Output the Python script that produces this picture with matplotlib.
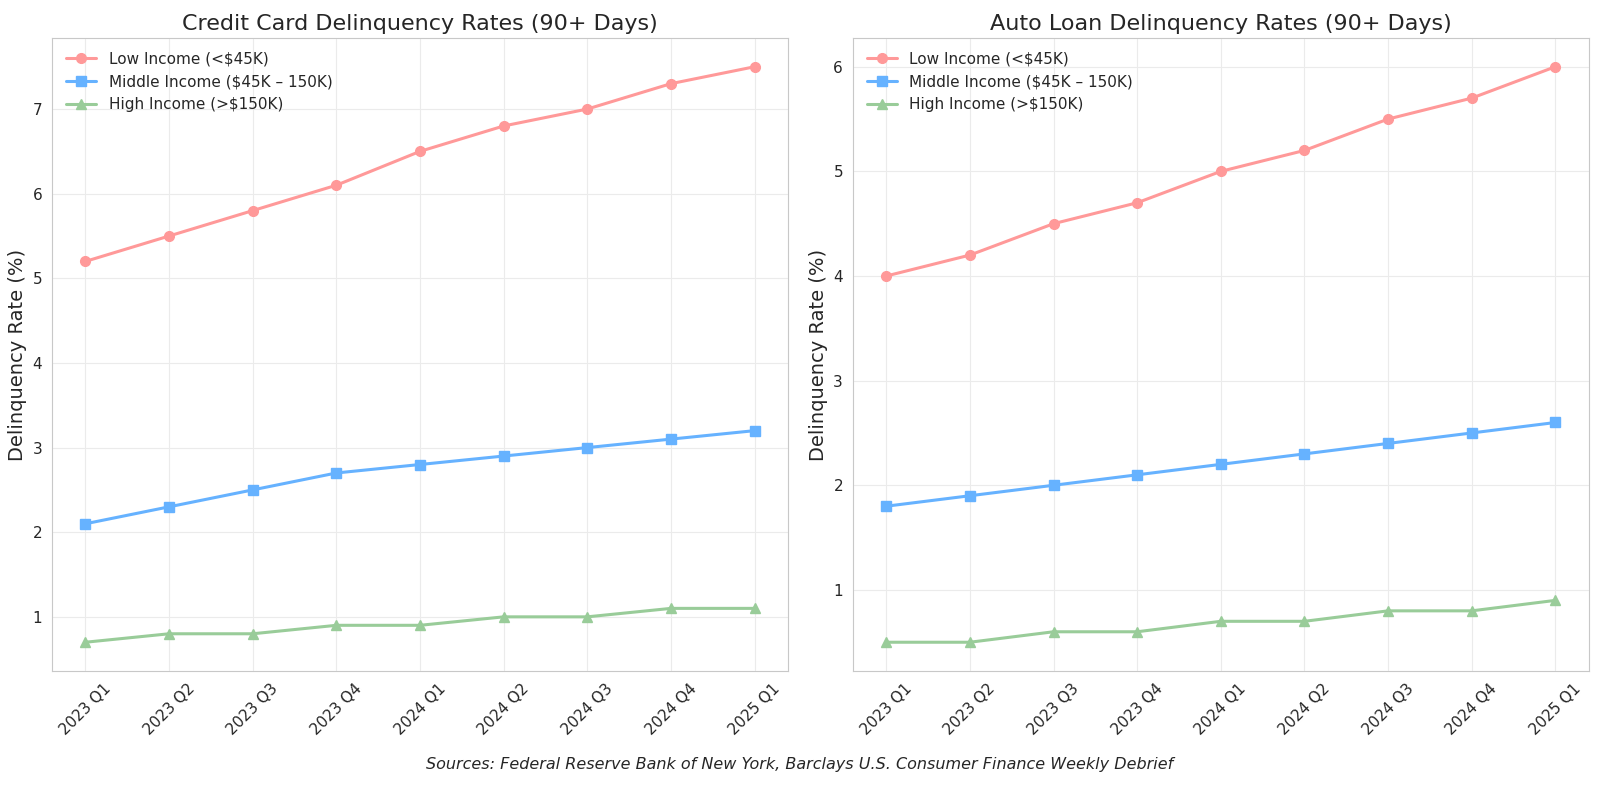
import matplotlib
matplotlib.use('Agg')
import matplotlib.pyplot as plt
import seaborn as sns

quarters = ['2023 Q1', '2023 Q2', '2023 Q3', '2023 Q4', '2024 Q1',
            '2024 Q2', '2024 Q3', '2024 Q4', '2025 Q1']

cc_low = [5.2, 5.5, 5.8, 6.1, 6.5, 6.8, 7.0, 7.3, 7.5]
cc_mid = [2.1, 2.3, 2.5, 2.7, 2.8, 2.9, 3.0, 3.1, 3.2]
cc_high = [0.7, 0.8, 0.8, 0.9, 0.9, 1.0, 1.0, 1.1, 1.1]

auto_low = [4.0, 4.2, 4.5, 4.7, 5.0, 5.2, 5.5, 5.7, 6.0]
auto_mid = [1.8, 1.9, 2.0, 2.1, 2.2, 2.3, 2.4, 2.5, 2.6]
auto_high = [0.5, 0.5, 0.6, 0.6, 0.7, 0.7, 0.8, 0.8, 0.9]

labels = ['Low Income (<$45K)', 'Middle Income ($45K – 150K)', 'High Income (>$150K)']
colors = ['#FF9999', '#66B2FF', '#99CC99']
markers = ['o', 's', '^']

sns.set_style('whitegrid')
plt.rcParams['font.family'] = ['DejaVu Sans']

fig, axes = plt.subplots(1, 2, figsize=(16, 7.86), dpi=100)

panels = [
    (axes[0], 'Credit Card Delinquency Rates (90+ Days)', [cc_low, cc_mid, cc_high]),
    (axes[1], 'Auto Loan Delinquency Rates (90+ Days)', [auto_low, auto_mid, auto_high]),
]

for ax, title, series in panels:
    for vals, lab, col, mk in zip(series, labels, colors, markers):
        ax.plot(quarters, vals, marker=mk, color=col, label=lab,
                linewidth=2.2, markersize=7)
    ax.set_title(title, fontsize=16)
    ax.set_ylabel('Delinquency Rate (%)', fontsize=14)
    ax.tick_params(axis='x', rotation=45, labelsize=11)
    ax.tick_params(axis='y', labelsize=11)
    ax.grid(True, color='#ebebeb', linewidth=0.8)
    for s in ax.spines.values():
        s.set_color('#c8c8c8')
    ax.legend(loc='upper left', fontsize=11, frameon=False)

fig.text(0.5, 0.027, 'Sources: Federal Reserve Bank of New York, Barclays U.S. Consumer Finance Weekly Debrief',
         ha='center', va='center', fontsize=11.5, style='italic')

plt.subplots_adjust(left=0.0325, right=0.993, top=0.9517, bottom=0.1463, wspace=0.088)
plt.savefig('out.png')
plt.close()
